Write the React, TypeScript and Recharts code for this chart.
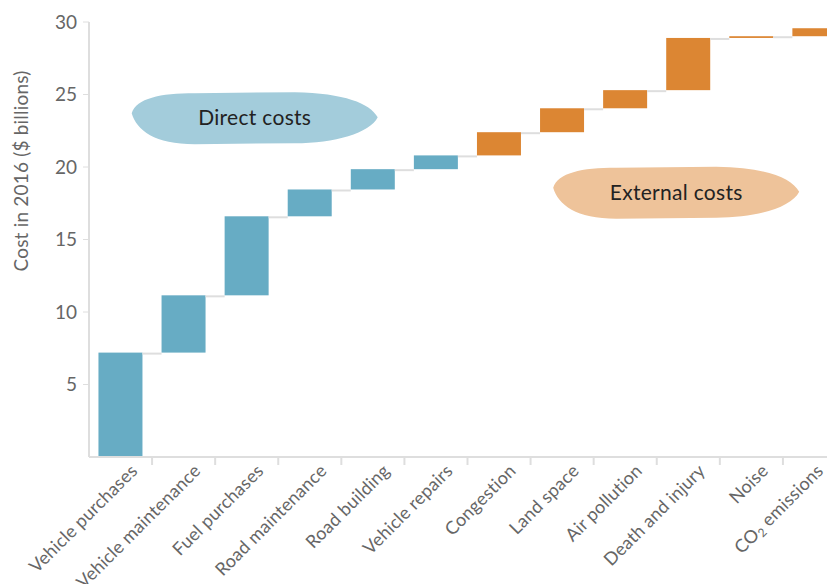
import React from "react";
import { BarChart, Bar, XAxis, YAxis, ReferenceDot, Label } from "recharts";

const categories = [
  "Vehicle purchases",
  "Vehicle maintenance",
  "Fuel purchases",
  "Road maintenance",
  "Road building",
  "Vehicle repairs",
  "Congestion",
  "Land space",
  "Air pollution",
  "Death and injury",
  "Noise",
  "CO2 emissions",
];
// cost added by each item, $ billions
const costs = [7.2, 3.95, 5.45, 1.85, 1.4, 0.95, 1.6, 1.65, 1.25, 3.6, 0.12, 0.55];
const groups = [
  "direct", "direct", "direct", "direct", "direct", "direct",
  "external", "external", "external", "external", "external", "external",
];
const yTicks = [5, 10, 15, 20, 25, 30];

const COLORS: Record<string, string> = { direct: "#67acc4", external: "#dc8633" };
const FONT = "Lato, 'Noto Sans', sans-serif";

const W = 860;
const H = 584;
const MARGIN = { top: 22, right: 14, bottom: 0, left: 0 };
const Y_AXIS_W = 89;
const BAND = (W - MARGIN.left - MARGIN.right - Y_AXIS_W) / categories.length;

let running = 0;
const data = categories.map((name, i) => {
  const row = { name, base: running, value: costs[i], group: groups[i] };
  running += costs[i];
  return row;
});

function StepBar(props: any) {
  const { x, y, width, height, payload, index } = props;
  const gap = BAND - width;
  return (
    <g>
      <rect x={x} y={y} width={width} height={height} fill={COLORS[payload.group]} />
      {index < data.length - 1 && (
        <line x1={x + width} x2={x + width + gap} y1={y + 1} y2={y + 1} stroke="#dedede" strokeWidth={2} />
      )}
    </g>
  );
}

function XTick(props: any) {
  const { x, y, payload, index } = props;
  const label: string = payload.value;
  // last label is nudged left so it stays inside the frame
  const dx = index === categories.length - 1 ? 10 : 18;
  return (
    <g>
      <line x1={x + BAND / 2} x2={x + BAND / 2} y1={y} y2={y + 8} stroke="#dedede" strokeWidth={2} />
      <text
        transform={`translate(${x + dx},${y + 15}) rotate(-45)`}
        textAnchor="end"
        fontFamily={FONT}
        fontSize={18}
        letterSpacing={0.2}
        fill="#666"
      >
        {label.startsWith("CO2") ? (
          <>
            CO<tspan fontSize={12} dy={3}>2</tspan>
            <tspan dy={-3}>{label.slice(3)}</tspan>
          </>
        ) : (
          label
        )}
      </text>
    </g>
  );
}

function blob(fill: string, text: string, dx: number) {
  return (props: any) => {
    const cx = props.cx + dx;
    const cy = props.cy;
    const d =
      "M -123 -5 C -118 -20 -95 -25 -60 -25 L 40 -26 C 90 -25 115 -15 123 -1 " +
      "C 115 15 80 25 40 25 L -60 26 C -100 26 -118 12 -123 -5 Z";
    return (
      <g transform={`translate(${cx},${cy})`}>
        <path d={d} fill={fill} />
        <text x={0} y={0} dy="0.35em" textAnchor="middle" fontFamily={FONT} fontSize={21} letterSpacing={0.3} fill="#222">
          {text}
        </text>
      </g>
    );
  };
}

export default function App() {
  return (
    <div style={{ position: "absolute", left: 0, top: 0, width: 827, height: 584, overflow: "hidden", background: "#fff" }}>
      <BarChart width={W} height={H} data={data} margin={MARGIN} barCategoryGap="15%">
        <XAxis
          dataKey="name"
          interval={0}
          tickLine={false}
          tickSize={0}
          tickMargin={0}
          height={127}
          axisLine={{ stroke: "#dedede", strokeWidth: 2 }}
          tick={<XTick />}
        />
        <YAxis
          type="number"
          domain={[0, 30]}
          ticks={yTicks}
          width={Y_AXIS_W}
          axisLine={{ stroke: "#dedede", strokeWidth: 2 }}
          tickLine={{ stroke: "#dedede" }}
          tickSize={6}
          tickMargin={6}
          tick={{ fill: "#666", fontSize: 19, fontFamily: FONT }}
        >
          <Label
            content={() => (
              <text
                transform="translate(20,171) rotate(-90)"
                textAnchor="middle"
                dominantBaseline="central"
                fontFamily={FONT}
                fontSize={19}
                letterSpacing={0.2}
                fill="#666"
              >
                Cost in 2016 ($ billions)
              </text>
            )}
          />
        </YAxis>
        <Bar dataKey="base" stackId="w" fill="transparent" isAnimationActive={false} />
        <Bar dataKey="value" stackId="w" shape={<StepBar />} isAnimationActive={false} />
        <ReferenceDot x="Fuel purchases" y={23.37} r={0} shape={blob("#a3ccdb", "Direct costs", 8)} />
        <ReferenceDot x="Air pollution" y={18.23} r={0} shape={blob("#eec39a", "External costs", 51)} />
      </BarChart>
    </div>
  );
}
